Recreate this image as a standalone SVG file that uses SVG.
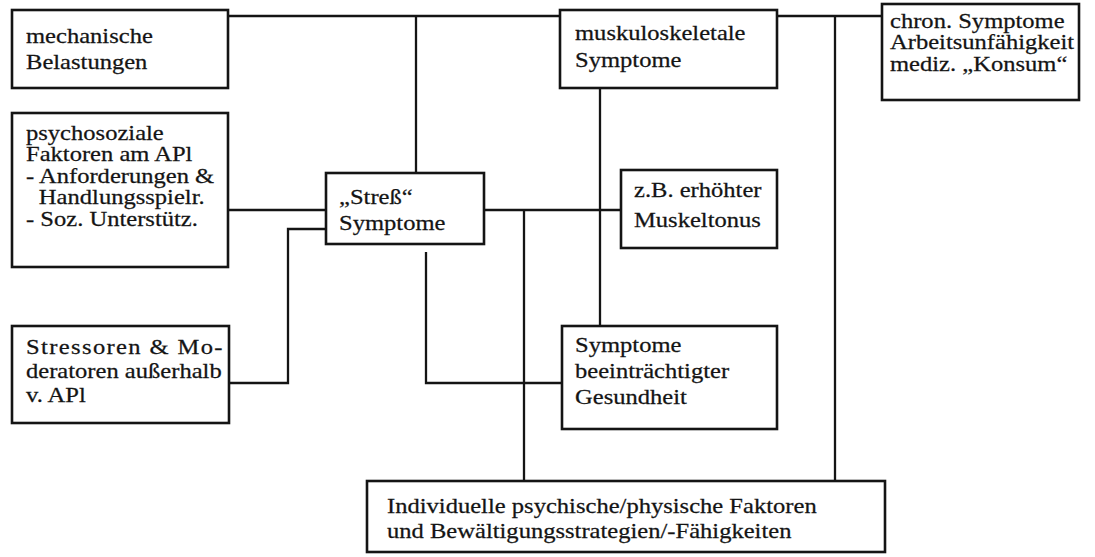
<svg xmlns="http://www.w3.org/2000/svg" width="1095" height="557" viewBox="0 0 1095 557">
  <style>
    .box { fill: #ffffff; stroke: #141414; stroke-width: 2.6; }
    .wire { fill: none; stroke: #141414; stroke-width: 2.3; stroke-linejoin: miter; }
    .t { font-family: 'Liberation Serif', 'DejaVu Serif', serif; font-size: 21px; fill: #141414; stroke: #141414; stroke-width: 0.25; }
  </style>
  <rect width="1095" height="557" fill="#ffffff"/>

  <!-- connectors -->
  <g id="connectors">
    <!-- top bus -->
    <path class="wire" d="M228,16 H560"/>
    <path class="wire" d="M777,16 H882"/>
    <path class="wire" d="M416,16 V173"/>
    <path class="wire" d="M835,16 V481"/>
    <!-- muscle symptoms down to impaired health -->
    <path class="wire" d="M600,72 V326"/>
    <!-- psychosocial factors to stress -->
    <path class="wire" d="M228,210 H326"/>
    <!-- outside stressors to stress -->
    <path class="wire" d="M229,383 H288 V229 H326"/>
    <!-- stress to muscle tone -->
    <path class="wire" d="M484,210 H621"/>
    <path class="wire" d="M524,210 V481"/>
    <!-- stress to impaired health -->
    <path class="wire" d="M426,252 V383 H562"/>
  </g>

  <g id="node-mechanisch">
    <rect class="box" x="12" y="10" width="216" height="78"/>
    <text class="t" font-family="Liberation Serif" transform="matrix(1.17 0 0 1 26 43)"><tspan x="0" y="0">mechanische</tspan><tspan x="0" y="26">Belastungen</tspan></text>
  </g>

  <g id="node-psychosozial">
    <rect class="box" x="12" y="113" width="216" height="154"/>
    <text class="t" font-family="Liberation Serif" transform="matrix(1.17 0 0 1 26 140)"><tspan x="0" y="0">psychosoziale</tspan><tspan x="0" y="21.5">Faktoren am APl</tspan><tspan x="0" y="43">- Anforderungen &amp;</tspan><tspan x="11" y="64.5">Handlungsspielr.</tspan><tspan x="0" y="86">- Soz. Unterstütz.</tspan></text>
  </g>

  <g id="node-stressoren">
    <rect class="box" x="12" y="326" width="217" height="97"/>
    <text class="t" font-family="Liberation Serif" transform="matrix(1.17 0 0 1 26 354)" textLength="168" lengthAdjust="spacing">Stressoren &amp; Mo-</text>
    <text class="t" font-family="Liberation Serif" transform="matrix(1.17 0 0 1 26 378)">deratoren außerhalb</text>
    <text class="t" font-family="Liberation Serif" transform="matrix(1.17 0 0 1 26 402)">v. APl</text>
  </g>

  <g id="node-stress">
    <rect class="box" x="326" y="173" width="158" height="71"/>
    <text class="t" font-family="Liberation Serif" transform="matrix(1.17 0 0 1 339 204)"><tspan x="0" y="0">„Streß“</tspan><tspan x="0" y="26">Symptome</tspan></text>
  </g>

  <g id="node-muskuloskeletal">
    <rect class="box" x="560" y="10" width="217" height="78"/>
    <text class="t" font-family="Liberation Serif" transform="matrix(1.17 0 0 1 575 40)"><tspan x="0" y="0">muskuloskeletale</tspan><tspan x="0" y="27">Symptome</tspan></text>
  </g>

  <g id="node-chronisch">
    <rect class="box" x="882" y="4" width="197" height="96"/>
    <text class="t" font-family="Liberation Serif" transform="matrix(1.17 0 0 1 890 28)"><tspan x="0" y="0">chron. Symptome</tspan><tspan x="0" y="21.5">Arbeitsunfähigkeit</tspan><tspan x="0" y="43">mediz. „Konsum“</tspan></text>
  </g>

  <g id="node-muskeltonus">
    <rect class="box" x="621" y="170" width="156" height="78"/>
    <text class="t" font-family="Liberation Serif" transform="matrix(1.17 0 0 1 634 197)"><tspan x="0" y="0">z.B. erhöhter</tspan><tspan x="0" y="30">Muskeltonus</tspan></text>
  </g>

  <g id="node-gesundheit">
    <rect class="box" x="562" y="326" width="215" height="103"/>
    <text class="t" font-family="Liberation Serif" transform="matrix(1.17 0 0 1 575 352)"><tspan x="0" y="0">Symptome</tspan><tspan x="0" y="26">beeinträchtigter</tspan><tspan x="0" y="52">Gesundheit</tspan></text>
  </g>

  <g id="node-individuell">
    <rect class="box" x="367" y="481" width="518" height="71"/>
    <text class="t" font-family="Liberation Serif" transform="matrix(1.17 0 0 1 387 513)"><tspan x="0" y="0">Individuelle psychische/physische Faktoren</tspan><tspan x="0" y="25">und Bewältigungsstrategien/-Fähigkeiten</tspan></text>
  </g>
</svg>
